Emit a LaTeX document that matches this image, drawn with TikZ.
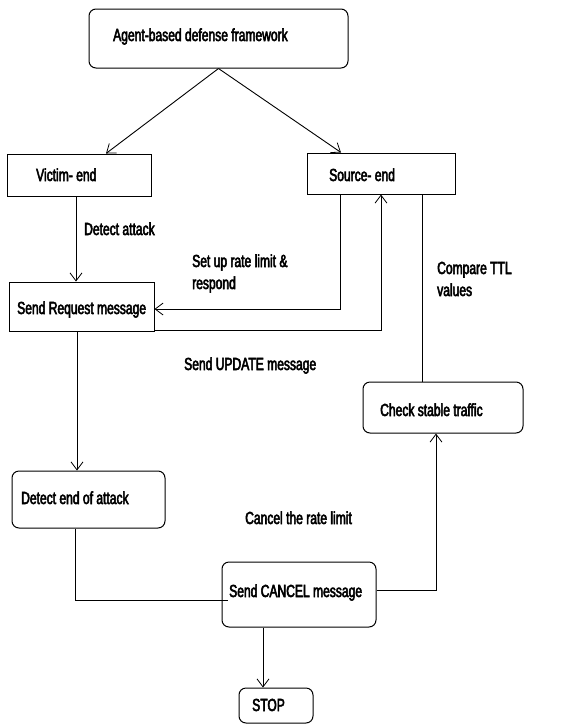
\documentclass[tikz,border=0pt]{standalone}
\usepackage{fontspec}
\setmainfont{Liberation Sans}[FakeStretch=0.69,FakeBold=3]
\usetikzlibrary{arrows.meta}
\begin{document}
\begin{tikzpicture}[x=1pt,y=-1pt,
  box/.style={draw=black,line width=1pt,inner sep=0pt},
  rbox/.style={box,rounded corners=7pt},
  lbl/.style={anchor=base west,inner sep=0pt,font=\fontsize{17.5}{21}\selectfont},
  conn/.style={draw=black,line width=0.9pt},
  arr/.style={conn,-{Straight Barb[length=8pt,width=12pt,line width=0.8pt]}}]
\fill[white] (0,0) rectangle (576,724);
\useasboundingbox (0,0) rectangle (576,724);
% boxes
\node[rbox,minimum width=259pt,minimum height=59pt] (top) at (218.5,38.5) {};
\node[box,minimum width=144pt,minimum height=42pt] (victim) at (79,175) {};
\node[box,minimum width=148pt,minimum height=41pt] (source) at (381,173.5) {};
\node[box,minimum width=145pt,minimum height=49pt] (sendreq) at (81.5,306.5) {};
\node[rbox,minimum width=160pt,minimum height=51pt] (check) at (443,407.5) {};
\node[rbox,minimum width=153pt,minimum height=57pt] (detectend) at (88.5,499.5) {};
\node[rbox,minimum width=154pt,minimum height=65pt] (cancel) at (299,594.5) {};
\node[rbox,minimum width=74pt,minimum height=35pt] (stop) at (276,705.5) {};
% texts
\node[lbl] (t1) at (113,41) {Agent-based defense framework};
\node[lbl] (t2) at (36,181) {Victim- end};
\node[lbl] (t3) at (329,181) {Source- end};
\node[lbl] (t4) at (84,235) {Detect attack};
\node[lbl] (t5a) at (192,267) {Set up rate limit \&};
\node[lbl] (t5b) at (192,289) {respond};
\node[lbl] (t6a) at (437,274) {Compare TTL};
\node[lbl] (t6b) at (437,296) {values};
\node[lbl] (t7) at (17,314) {Send Request message};
\node[lbl] (t8) at (184,370) {Send UPDATE message};
\node[lbl] (t9) at (380,416) {Check stable traffic};
\node[lbl] (t10) at (21,504) {Detect end of attack};
\node[lbl] (t11) at (245,524) {Cancel the rate limit};
\node[lbl] (t12) at (229,597) {Send CANCEL message};
\node[lbl] (t13) at (252,711) {STOP};
% connectors
\draw[arr] (top.south) -- ([xshift=27]victim.north);
\draw[arr] (top.south) -- ([xshift=-40]source.north);
\draw[arr] ([xshift=-41]source.south) |- ([yshift=-2.5]sendreq.east);
\draw[arr] ([yshift=1]sendreq.south east) -| (source.south);
\draw[conn] ([xshift=41]source.south) -- ([xshift=-21]check.north);
\draw[arr] ([xshift=-3]victim.south) -- ([xshift=-3]victim.south |- sendreq.north);
\draw[arr] ([xshift=-4.5]sendreq.south) -- ([xshift=-4.5]sendreq.south |- detectend.north);
\draw[conn] ([xshift=-13.5]detectend.south) |- ([xshift=6,yshift=-5.5]cancel.west);
\draw[arr] ([yshift=4]cancel.east) -| ([xshift=-7]check.south);
\draw[arr] ([xshift=-36]cancel.south) -- ([xshift=-36]cancel.south |- stop.north);
\end{tikzpicture}
\end{document}
